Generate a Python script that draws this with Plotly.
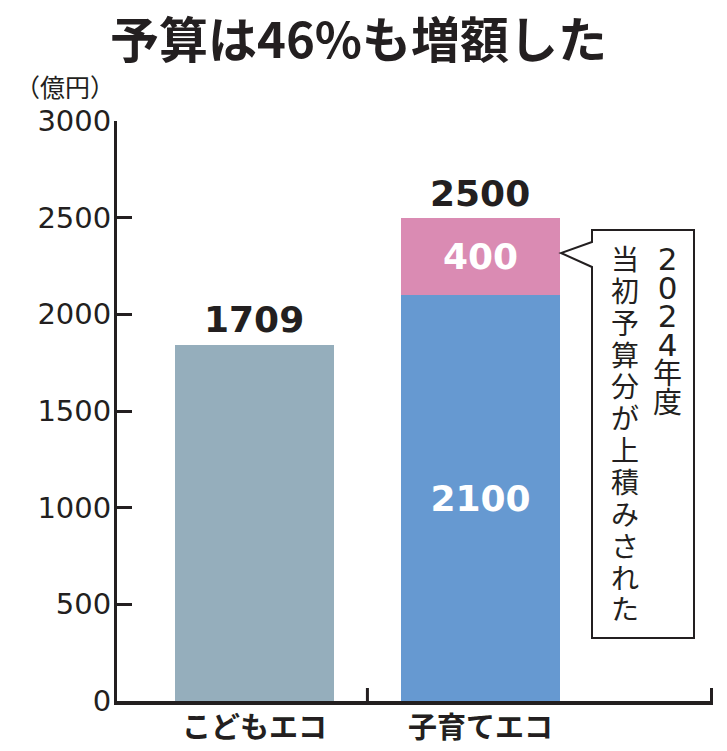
import plotly.graph_objects as go

# ---- data ----
categories = ["こどもエコ", "子育てエコ"]
kodomo_drawn = [1840]          # gray bar height as drawn
kodomo_label = ["1709"]        # printed label
kosodate_base = [2100]         # blue segment
kosodate_added = [400]         # pink segment
kosodate_total_label = ["2500"]
y_ticks = [0, 500, 1000, 1500, 2000, 2500, 3000]
title_text = "予算は46%も増額した"
unit_text = "（億円）"
callout_col_right = "2024年度"
callout_col_left = "当初予算分が上積みされた"

DARK = "#231f20"
GRAY = "#95aebc"
BLUE = "#6699d1"
PINK = "#da8bb3"
NUM_FONT = "DejaVu Sans"
JP_FONT = "Noto Sans CJK JP"

W, H = 727, 751
L, R, T, B = 117, 14, 121, 50
PW, PH = W - L - R, H - T - B


def px(x):
    return (x - L) / PW


def py(y):
    return (H - B - y) / PH


def vertical(text, size, digit_size):
    parts = []
    for c in text:
        if c.isdigit():
            parts.append(f'<span style="font-size:{digit_size}px;font-family:{NUM_FONT}">{c}</span>')
        else:
            parts.append(f'<span style="font-size:{size}px">{c}</span>')
    return "<br>".join(parts)


fig = go.Figure()
fig.add_trace(go.Bar(
    x=[categories[0]], y=kodomo_drawn, marker=dict(color=GRAY, line=dict(width=0)),
    width=0.703, hoverinfo="skip", showlegend=False))
fig.add_trace(go.Bar(
    x=[categories[1]], y=kosodate_base, marker=dict(color=BLUE, line=dict(width=0)),
    width=0.703, text=[str(v) for v in kosodate_base], textposition="inside",
    insidetextanchor="middle", textangle=0, constraintext="none",
    textfont=dict(family=NUM_FONT, size=36, color="white", weight="bold"),
    hoverinfo="skip", showlegend=False))
fig.add_trace(go.Bar(
    x=[categories[1]], y=kosodate_added, marker=dict(color=PINK, line=dict(width=0)),
    width=0.703, text=[str(v) for v in kosodate_added], textposition="inside",
    insidetextanchor="middle", textangle=0, constraintext="none",
    textfont=dict(family=NUM_FONT, size=36, color="white", weight="bold"),
    hoverinfo="skip", showlegend=False))

# labels above bars
fig.add_annotation(x=categories[0], y=kodomo_drawn[0], text=kodomo_label[0],
                   showarrow=False, yanchor="middle", yshift=26,
                   font=dict(family=NUM_FONT, size=36, color=DARK, weight="bold"))
fig.add_annotation(x=categories[1], y=kosodate_base[0] + kosodate_added[0],
                   text=kosodate_total_label[0], showarrow=False, yanchor="middle",
                   yshift=24, font=dict(family=NUM_FONT, size=36, color=DARK, weight="bold"))

# title and unit
fig.add_annotation(xref="paper", yref="paper", x=px(358), y=py(37), text=title_text,
                   showarrow=False, xanchor="center", yanchor="middle",
                   font=dict(family=JP_FONT, size=49, color=DARK, weight="bold"))
fig.add_annotation(xref="paper", yref="paper", x=px(65), y=py(86), text=unit_text,
                   showarrow=False, xanchor="center", yanchor="middle",
                   font=dict(family=JP_FONT, size=25, color=DARK))

# callout box
pts = [(592, 230), (694, 230), (694, 638), (592, 638), (592, 267), (561, 253), (592, 242)]
path = "M " + " L ".join(f"{px(a):.5f},{py(b):.5f}" for a, b in pts) + " Z"
fig.add_shape(type="path", xref="paper", yref="paper", path=path,
              fillcolor="white", line=dict(color=DARK, width=2))

# vertical text columns (line pitch = 1.3 * base font size)
fig.add_annotation(xref="paper", yref="paper", x=px(667), y=py(259 - 20),
                   text=vertical(callout_col_right, 29, 31), showarrow=False,
                   xanchor="center", yanchor="top",
                   font=dict(family=JP_FONT, size=22, color=DARK))
fig.add_annotation(xref="paper", yref="paper", x=px(625), y=py(260 - 24),
                   text=vertical(callout_col_left, 28, 28), showarrow=False,
                   xanchor="center", yanchor="top",
                   font=dict(family=JP_FONT, size=24.5, color=DARK))

# small ticks on x axis
tick_h = 13 / PH
fig.add_shape(type="line", xref="x", yref="paper", x0=0.5, x1=0.5, y0=0, y1=tick_h,
              line=dict(color=DARK, width=3))
fig.add_shape(type="line", xref="paper", yref="paper", x0=1 - 1.5 / PW, x1=1 - 1.5 / PW,
              y0=0, y1=tick_h, line=dict(color=DARK, width=3))

fig.update_layout(
    width=W, height=H, autosize=False,
    margin=dict(l=L, r=R, t=T, b=B),
    paper_bgcolor="white", plot_bgcolor="white",
    barmode="stack", bargap=0,
    xaxis=dict(
        type="category", categoryorder="array", categoryarray=categories,
        range=[-0.608, 2.029], showgrid=False, zeroline=False, automargin=False,
        showline=True, linecolor=DARK, linewidth=4, ticks="",
        tickfont=dict(family=JP_FONT, size=29, color=DARK, weight="bold"),
        ticklabelstandoff=-2, fixedrange=True),
    yaxis=dict(
        range=[0, 3000], tickvals=y_ticks, ticktext=[str(v) for v in y_ticks],
        showgrid=False, zeroline=False, showline=True, linecolor=DARK, linewidth=3,
        automargin=False,
        ticks="inside", ticklen=15, tickwidth=3, tickcolor=DARK,
        tickfont=dict(family=NUM_FONT, size=29, color=DARK),
        ticklabelstandoff=-3, fixedrange=True),
)

fig.write_html("out.html", config={"displayModeBar": False},
               post_script="document.body.style.margin='0';document.body.style.overflow='hidden';")
